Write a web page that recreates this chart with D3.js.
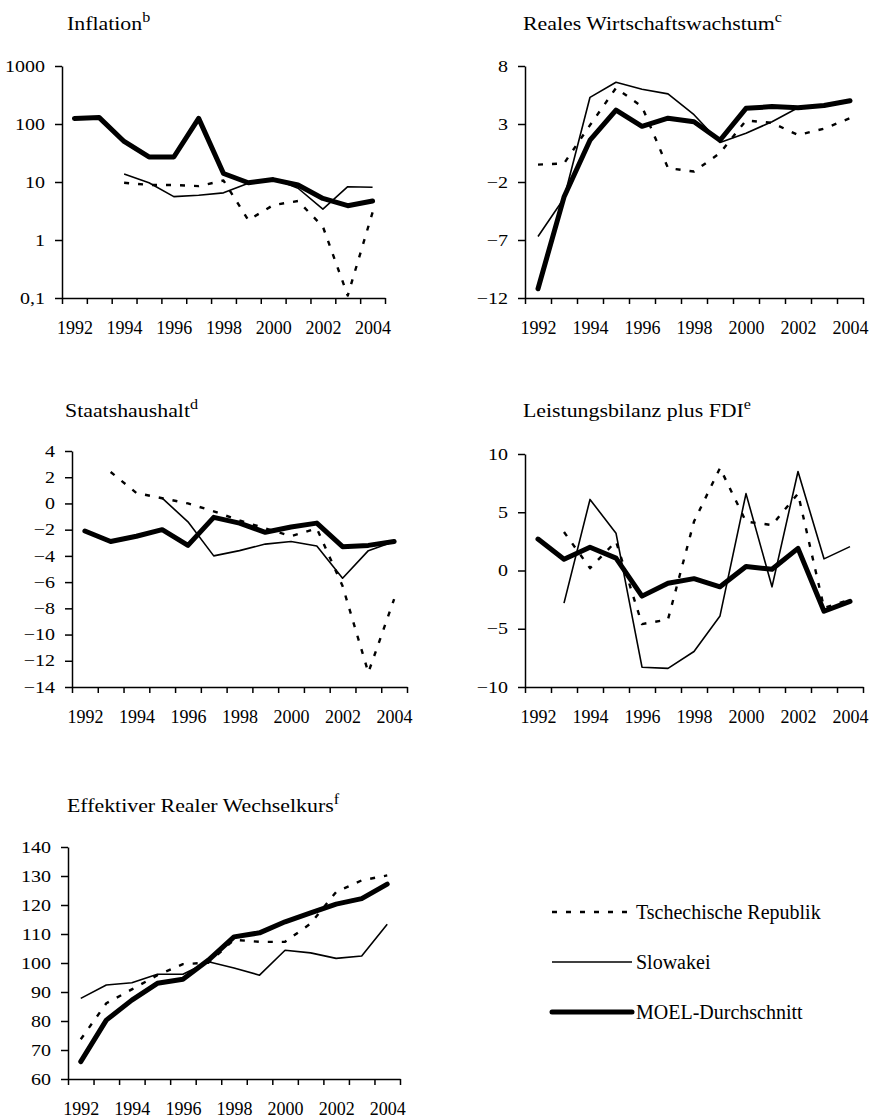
<!DOCTYPE html>
<html>
<head>
<meta charset="utf-8">
<script src="https://cdn.jsdelivr.net/npm/d3@7"></script>
<style>
  body { margin: 0; background: #fff; }
  svg { display: block; }
  text { font-family: "Liberation Serif", "Times New Roman", serif; fill: #000; }
</style>
</head>
<body>
<div id="chart"></div>
<script>
var years = [1992, 1993, 1994, 1995, 1996, 1997, 1998, 1999, 2000, 2001, 2002, 2003, 2004];
var yearLabels = [1992, 1994, 1996, 1998, 2000, 2002, 2004];
var seriesNames = ["Tschechische Republik", "Slowakei", "MOEL-Durchschnitt"];

// Inflation (log scale)
var inflTicks = [0.1, 1, 10, 100, 1000];
var inflCZ = [null, null, 9.7, 8.9, 8.9, 8.5, 10.6, 2.2, 4.0, 4.7, 1.7, 0.11, 3.0];
var inflSK = [null, null, 13.7, 9.7, 5.6, 5.9, 6.5, 9.5, 11.5, 7.8, 3.4, 8.3, 8.1];
var inflMOEL = [125, 129, 50, 27, 27, 125, 14, 9.7, 11, 8.9, 5.2, 3.9, 4.7];

// Reales Wirtschaftswachstum
var growthTicks = [-12, -7, -2, 3, 8];
var growthCZ = [-0.5, -0.4, 2.9, 6.1, 4.5, -0.8, -1.1, 0.5, 3.3, 3.1, 2.05, 2.6, 3.5];
var growthSK = [-6.7, -3.4, 5.3, 6.6, 6.0, 5.6, 3.8, 1.4, 2.2, 3.2, 4.4, 4.5, 5.0];
var growthMOEL = [-11.2, -3.3, 1.6, 4.2, 2.8, 3.5, 3.2, 1.6, 4.35, 4.5, 4.4, 4.6, 5.0];

// Staatshaushalt
var budgetTicks = [-14, -12, -10, -8, -6, -4, -2, 0, 2, 4];
var budgetCZ = [null, 2.4, 0.8, 0.4, 0.0, -0.6, -1.3, -1.9, -2.5, -1.9, -6.3, -12.9, -7.3];
var budgetSK = [null, null, null, 0.4, -1.4, -4.0, -3.6, -3.1, -2.9, -3.25, -5.7, -3.6, -2.9];
var budgetMOEL = [-2.1, -2.9, -2.5, -2.0, -3.2, -1.06, -1.5, -2.2, -1.8, -1.5, -3.3, -3.2, -2.9];

// Leistungsbilanz plus FDI
var caTicks = [-10, -5, 0, 5, 10];
var caCZ = [null, 3.3, 0.2, 2.5, -4.6, -4.2, 4.2, 8.8, 4.2, 3.9, 6.6, -3.2, -2.5];
var caSK = [null, -2.8, 6.1, 3.2, -8.3, -8.4, -6.95, -3.9, 6.6, -1.4, 8.5, 1.0, 2.05];
var caMOEL = [2.7, 0.97, 2.0, 1.06, -2.2, -1.1, -0.7, -1.4, 0.34, 0.11, 1.9, -3.5, -2.65];

// Effektiver Realer Wechselkurs
var reerTicks = [60, 70, 80, 90, 100, 110, 120, 130, 140];
var reerCZ = [73.7, 86.1, 90.9, 95.8, 99.6, 100.1, 108, 107.3, 107.3, 113.6, 124.5, 128.5, 130.2];
var reerSK = [87.8, 92.4, 93.2, 96.1, 96.1, 100.4, 98.3, 95.8, 104.4, 103.5, 101.6, 102.4, 113.4];
var reerMOEL = [66, 80.3, 87.2, 93, 94.4, 101, 109, 110.4, 114.2, 117.3, 120.3, 122.2, 127.2];

var styles = [
  { width: 2.4, dash: "5,9", cap: "butt" },   // Tschechische Republik
  { width: 1.6, dash: null, cap: "butt" },    // Slowakei
  { width: 5, dash: null, cap: "round" }      // MOEL
];

var svg = d3.select("#chart").append("svg")
  .attr("width", 880)
  .attr("height", 1119);

var minus = function(s) { return String(s).replace("-", "\u2212"); };

function panel(p) {
  var g = svg.append("g");

  var x = d3.scaleLinear().domain([1991.5, 2004.5]).range([p.left, p.right]);
  var y = (p.log ? d3.scaleLog() : d3.scaleLinear())
    .domain([p.ticks[0], p.ticks[p.ticks.length - 1]])
    .range([p.bottom, p.top]);

  // title with superscript
  var t = g.append("text")
    .attr("transform", "translate(" + p.tx + "," + p.ty + ") scale(1.15,1)")
    .style("font-size", "19px");
  t.append("tspan").text(p.title);
  t.append("tspan").attr("dy", -8).style("font-size", "14px").text(p.sup);

  // y axis
  var ya = g.append("g")
    .attr("transform", "translate(" + p.left + ",0)")
    .call(d3.axisLeft(y).tickValues(p.ticks).tickFormat(p.fmt).tickSizeInner(7).tickSizeOuter(0));
  ya.selectAll("text")
    .attr("x", null)
    .attr("transform", "translate(-17,0) scale(1.25,1)")
    .style("font-size", "16px");

  // x axis: ticks between the years
  var xa = g.append("g")
    .attr("transform", "translate(0," + p.bottom + ")")
    .call(d3.axisBottom(x).tickValues(d3.range(1991.5, 2005, 1)).tickFormat("").tickSizeInner(6).tickSizeOuter(0));

  var xl = g.append("g")
    .attr("transform", "translate(0," + p.bottom + ")")
    .call(d3.axisBottom(x).tickValues(yearLabels).tickFormat(d3.format("d")).tickSize(0));
  xl.select(".domain").remove();
  xl.selectAll("text").attr("y", 36).attr("dy", null).style("font-size", "18px");

  g.selectAll(".domain, .tick line").attr("stroke-width", 1.5);

  // lines
  var line = d3.line()
    .defined(function(d) { return d[1] != null; })
    .x(function(d) { return x(d[0]); })
    .y(function(d) { return y(d[1]); });

  p.series.forEach(function(vals, i) {
    var s = styles[i];
    g.append("path")
      .datum(years.map(function(yr, k) { return [yr, vals[k]]; }))
      .attr("fill", "none")
      .attr("stroke", "#000")
      .attr("stroke-width", s.width)
      .attr("stroke-dasharray", s.dash)
      .attr("stroke-linecap", s.cap)
      .attr("stroke-linejoin", "round")
      .attr("d", line);
  });
}

panel({ title: "Inflation", sup: "b", tx: 67, ty: 30,
  left: 62, right: 385, top: 66, bottom: 298, log: true, ticks: inflTicks,
  fmt: function(d) { return String(d).replace(".", ","); },
  series: [inflCZ, inflSK, inflMOEL] });

panel({ title: "Reales Wirtschaftswachstum", sup: "c", tx: 523, ty: 30,
  left: 525, right: 863, top: 66, bottom: 298, ticks: growthTicks, fmt: minus,
  series: [growthCZ, growthSK, growthMOEL] });

panel({ title: "Staatshaushalt", sup: "d", tx: 65, ty: 417,
  left: 72, right: 407, top: 451, bottom: 687, ticks: budgetTicks, fmt: minus,
  series: [budgetCZ, budgetSK, budgetMOEL] });

panel({ title: "Leistungsbilanz plus FDI", sup: "e", tx: 523, ty: 417,
  left: 525, right: 863, top: 454, bottom: 687, ticks: caTicks, fmt: minus,
  series: [caCZ, caSK, caMOEL] });

panel({ title: "Effektiver Realer Wechselkurs", sup: "f", tx: 67, ty: 812,
  left: 68, right: 400, top: 847, bottom: 1079, ticks: reerTicks, fmt: minus,
  series: [reerCZ, reerSK, reerMOEL] });

// legend
var legend = svg.append("g").attr("transform", "translate(552,912)");
seriesNames.forEach(function(name, i) {
  var s = styles[i];
  var row = legend.append("g").attr("transform", "translate(0," + (i * 50) + ")");
  row.append("line")
    .attr("x1", 0).attr("x2", 80)
    .attr("stroke", "#000")
    .attr("stroke-width", s.width)
    .attr("stroke-dasharray", s.dash)
    .attr("stroke-linecap", s.cap);
  row.append("text")
    .attr("x", 84).attr("y", 7)
    .style("font-size", "20px")
    .text(name);
});
</script>
</body>
</html>
